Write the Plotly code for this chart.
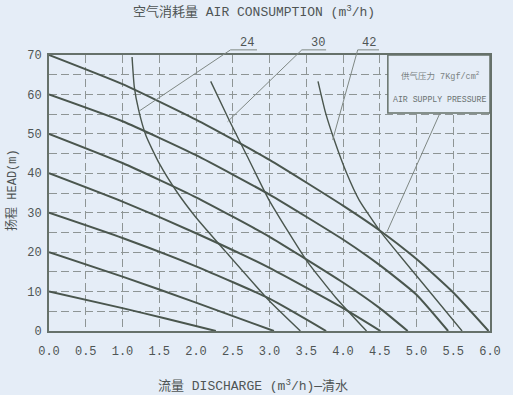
import plotly.graph_objects as go

# ---- data ----
x_ticks = [0.0, 0.5, 1.0, 1.5, 2.0, 2.5, 3.0, 3.5, 4.0, 4.5, 5.0, 5.5, 6.0]
y_ticks = [0, 10, 20, 30, 40, 50, 60, 70]

# head-discharge curves at air supply pressures 1..7 kgf/cm2 (max head 10..70 m)
q_p70 = [0, 1.0, 2.0, 3.0, 4.0, 4.5, 5.0, 5.5, 5.98]
h_p70 = [70, 62.6, 53.6, 43.4, 31.8, 25.5, 18.25, 9.75, 0]
q_p60 = [0, 1.0, 2.0, 3.0, 4.0, 4.5, 5.0, 5.43]
h_p60 = [60, 53.2, 44.6, 34.6, 23.2, 16.7, 9.2, 0]
q_p50 = [0, 1.0, 2.0, 3.0, 4.0, 4.5, 4.88]
h_p50 = [50, 42.6, 33.9, 23.9, 12.3, 5.8, 0]
q_p40 = [0, 1.0, 2.0, 3.0, 4.0, 4.51]
h_p40 = [40, 32.8, 24.8, 16.0, 5.8, 0]
q_p30 = [0, 1.0, 2.0, 3.0, 3.77]
h_p30 = [30, 23.6, 16.4, 8.2, 0]
q_p20 = [0, 1.0, 2.0, 3.06]
h_p20 = [20, 13.8, 7.2, 0]
q_p10 = [0, 1.0, 1.6, 2.27]
h_p10 = [10, 5.8, 3.1, 0]

# air consumption curves (m3/h)
air_labels = ["24", "30", "42"]
q_a24 = [1.13, 1.16, 1.22, 1.32, 1.5, 1.75, 2.0, 2.4, 3.0, 3.42]
h_a24 = [69.5, 62.0, 56.0, 49.5, 42.5, 35.0, 28.8, 20.2, 7.6, 0]
q_a30 = [2.2, 2.45, 2.7, 3.0, 3.5, 3.9, 4.32]
h_a30 = [63.3, 53.5, 44.2, 33.0, 18.0, 8.5, 0]
q_a42 = [3.66, 3.76, 3.88, 4.05, 4.22, 4.51, 5.0, 5.62]
h_a42 = [63.3, 55.5, 48.5, 40.0, 33.2, 25.2, 14.0, 0]

BG = "#e5edf7"
LINE = "#4a564e"
GRID = "#8e9595"
FRAME = "#66716a"
TXT = "#4f5555"
LEAD = "#7f8884"
MONO = "Liberation Mono, Noto Sans CJK SC, monospace"

XMAX, YMAX = 6.0, 70.0

fig = go.Figure()

pressure = [(q_p70, h_p70), (q_p60, h_p60), (q_p50, h_p50), (q_p40, h_p40),
            (q_p30, h_p30), (q_p20, h_p20), (q_p10, h_p10)]
for q, h in pressure:
    fig.add_trace(go.Scatter(x=q, y=h, mode="lines",
                             line=dict(color=LINE, width=2, shape="spline", smoothing=0.5),
                             hoverinfo="skip", showlegend=False))

for q, h in [(q_a24, h_a24), (q_a30, h_a30), (q_a42, h_a42)]:
    fig.add_trace(go.Scatter(x=q, y=h, mode="lines",
                             line=dict(color=LINE, width=1.4, shape="spline", smoothing=0.5),
                             hoverinfo="skip", showlegend=False))


def P(q, h):
    return q / XMAX, h / YMAX


shapes = []
annotations = []


def label(x, y, text, size, color=TXT, ref="paper", angle=0):
    annotations.append(dict(x=x, y=y, xref="x" if ref == "data" else "paper",
                            yref="y" if ref == "data" else "paper",
                            xanchor="center", yanchor="middle", showarrow=False,
                            text=text, textangle=angle,
                            font=dict(family=MONO, size=size, color=color)))


# legend box (supply pressure)
shapes.append(dict(type="rect", xref="x", yref="y", x0=4.61, x1=6.0, y0=55.3, y1=70,
                   fillcolor=BG, line=dict(color=FRAME, width=1.5), layer="above"))
label(5.32, 64.7, "供气压力 7Kgf/cm<sup>2</sup>", 8.5, "#7a8282", ref="data")
label(5.31, 58.6, "AIR SUPPLY PRESSURE", 8.2, "#6a7272", ref="data")

# leader lines (paper coords derived from data positions)
leaders = [
    # (underline start q, underline end q, label q, target q, target h)
    (2.47, 2.83, 2.70, 1.22, 55.7),
    (3.44, 3.77, 3.66, 2.43, 53.1),
    (4.20, 4.49, 4.35, 3.86, 48.5),
]
UH = 71.3
for (u0, u1, lq, tq, th), lab in zip(leaders, air_labels):
    x0, y0 = P(u0, UH)
    x1, y1 = P(u1, UH)
    tx, ty = P(tq, th)
    shapes.append(dict(type="line", xref="paper", yref="paper", x0=x0, y0=y0, x1=x1, y1=y1,
                       line=dict(color=LEAD, width=1)))
    shapes.append(dict(type="line", xref="paper", yref="paper", x0=x0, y0=y0, x1=tx, y1=ty,
                       line=dict(color=LEAD, width=1)))
    lx, ly = P(lq, 73.1)
    label(lx, ly, lab, 12)

bx0, by0 = P(5.32, 55.3)
bx1, by1 = P(4.60, 25.2)
shapes.append(dict(type="line", xref="paper", yref="paper", x0=bx0, y0=by0, x1=bx1, y1=by1,
                   line=dict(color=LEAD, width=1)))

# titles
label(0.465, 1.156, "空气消耗量 AIR CONSUMPTION (m<sup>3</sup>/h)", 13)
label(0.463, -0.196, "流量 DISCHARGE (m<sup>3</sup>/h)—清水", 13)
label(-0.084, 0.511, "扬程 HEAD(m)", 12, angle=-90)

fig.update_layout(
    width=513, height=395,
    margin=dict(l=49, r=17, t=55, b=64),
    paper_bgcolor=BG, plot_bgcolor=BG,
    shapes=shapes, annotations=annotations,
    showlegend=False,
)
fig.update_xaxes(range=[0, XMAX], tickvals=x_ticks, ticktext=[f"{v:.1f}" for v in x_ticks],
                 showgrid=True, gridcolor=GRID, griddash="8px,4px", gridwidth=1,
                 showline=True, mirror=True, linecolor=FRAME, linewidth=2,
                 zeroline=False, ticks="", ticklabelstandoff=8,
                 tickfont=dict(family=MONO, size=12, color=TXT))
fig.update_yaxes(range=[0, YMAX], tickvals=y_ticks, ticktext=[str(v) for v in y_ticks],
                 showgrid=True, gridcolor=GRID, griddash="8px,4px", gridwidth=1,
                 minor=dict(dtick=5, showgrid=True, gridcolor=GRID, griddash="8px,4px", gridwidth=1),
                 showline=True, mirror=True, linecolor=FRAME, linewidth=2,
                 zeroline=False, ticks="", ticklabelstandoff=3,
                 tickfont=dict(family=MONO, size=12, color=TXT))

fig.write_html(
    "out.html",
    config={"displayModeBar": False},
    post_script="document.body.style.margin='0';document.body.style.padding='0';"
                "document.documentElement.style.background='" + BG + "';"
                "document.body.style.background='" + BG + "';",
)
